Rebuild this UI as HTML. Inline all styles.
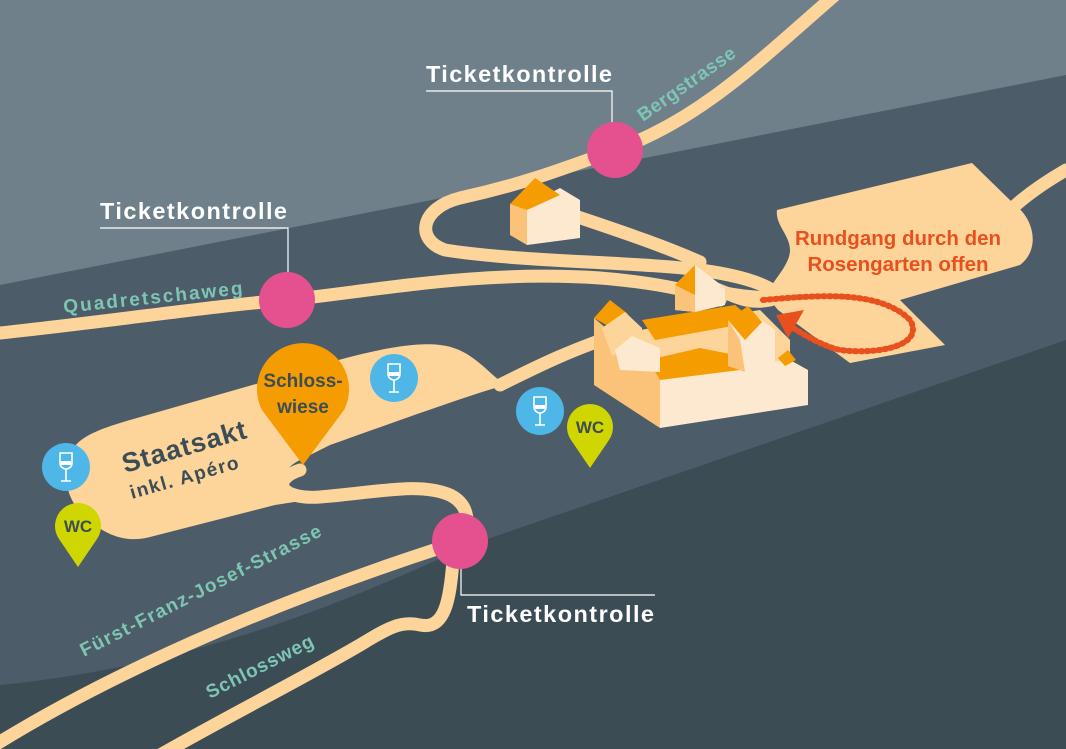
<!DOCTYPE html>
<html><head><meta charset="utf-8"><style>
html,body{margin:0;padding:0;background:#4c5d69}
svg{display:block}
text{font-family:"Liberation Sans",sans-serif;font-weight:bold}
</style></head><body>
<svg width="1066" height="749" viewBox="0 0 1066 749" xmlns="http://www.w3.org/2000/svg">
<rect width="1066" height="749" fill="#4c5d69"/>
<polygon points="0,0 1066,0 1066,75 0,285" fill="#6f808b"/>
<path d="M0,685 C200,665 350,600 470,545 L1066,340 L1066,749 L0,749 Z" fill="#3c4c55"/>

<g fill="none" stroke="#fdd59b" stroke-width="13" stroke-linecap="round" stroke-linejoin="round">
<path d="M835,-5 C760,60 700,120 615,150 C560,170 520,185 460,198 C420,208 415,240 445,250 C520,262 640,262 700,270 C760,278 790,295 770,300 C740,306 730,290 700,285"/>
<path d="M0,333 C120,320 220,305 287,300 C380,290 480,270 600,278 C650,282 690,290 720,300"/>
<path d="M540,204 C600,225 650,240 700,262"/>
<path d="M725,293 C760,300 790,298 820,294"/>
<path d="M1066,170 C1040,185 1020,200 1005,215"/>
<path d="M500,385 C540,365 570,350 630,330"/>
<path d="M-5,745 C100,680 250,610 440,548 L460,541"/>
<path d="M453,560 C450,600 445,630 420,625 C400,620 385,630 360,645 C300,680 230,715 160,755"/>
<path d="M300,470 C270,480 280,500 320,497 C380,492 420,482 450,495 C470,505 470,525 462,540"/>
</g>

<path d="M70,460 C70,440 95,430 130,420 L270,380 C330,362 400,340 440,345 C470,348 485,370 505,385 C470,395 400,420 330,445 L300,460 C270,475 285,500 320,498 L275,505 L150,537 C120,545 95,530 75,505 C65,490 65,475 70,460 Z" fill="#fdd59b"/>

<path d="M777,210 L972,163 L1015,205 C1035,220 1040,250 1020,265 L900,300 L945,345 L850,363 L778,310 L770,300 C760,290 790,270 790,250 C790,235 775,225 777,210 Z" fill="#fdd59b"/>

<!-- small house -->
<polygon points="510,204 510,235 527,245 527,205" fill="#fbc37a"/>
<polygon points="527,205 527,245 580,238 580,200 560,188" fill="#fde9d0"/>
<polygon points="510,204 535,178 560,195 527,210" fill="#f59c00"/>

<!-- castle -->
<g>
<polygon points="640,330 760,310 790,340 790,375 660,385 640,370" fill="#fdd59b"/>
<polygon points="594,318 594,385 660,428 660,372 620,340" fill="#fbc37a"/>
<polygon points="660,372 660,428 808,405 808,370 790,360 770,362 720,368" fill="#fde9d0"/>
<polygon points="648,360 700,348 740,356 740,370 660,380" fill="#f59c00"/>
<polygon points="642,320 735,305 755,322 655,340" fill="#f59c00"/>
<polygon points="594,318 610,300 628,314 615,330" fill="#f59c00"/>
<polygon points="602,328 625,312 642,328 642,342 612,356" fill="#fdd59b"/>
<polygon points="615,350 632,336 660,348 660,372 620,370" fill="#fde9d0"/>
<polygon points="728,320 748,310 775,330 775,368 745,372" fill="#fde9d0"/>
<polygon points="728,320 740,340 745,372 728,366" fill="#fbc37a"/>
<polygon points="728,320 748,306 762,322 745,340" fill="#f59c00"/>
<polygon points="778,358 788,350 796,360 785,366" fill="#f59c00"/>
<polygon points="675,285 675,310 695,312 725,305 725,288 695,265" fill="#fde9d0"/>
<polygon points="675,285 695,265 695,312 675,310" fill="#fbc37a"/>
<polygon points="675,285 695,265 695,295" fill="#f59c00"/>
</g>

<!-- dotted arrow -->
<path d="M763,300 C820,295 880,290 910,320 C925,345 880,355 840,350 C820,345 805,335 793,328" fill="none" stroke="#e8501e" stroke-width="6" stroke-dasharray="2 4" stroke-linecap="round"/>
<polygon points="776,315 804,310 788,338" fill="#e8501e"/>
<text x="898" y="245" font-size="20.5" fill="#e8501e" text-anchor="middle">Rundgang durch den</text>
<text x="898" y="271" font-size="20.5" fill="#e8501e" text-anchor="middle">Rosengarten offen</text>

<g stroke="#ffffff" stroke-width="1.2" fill="none">
<polyline points="426,91 612,91 612,125"/>
<polyline points="100,228 288,228 288,275"/>
<polyline points="461,565 461,595 655,595"/>
</g>
<g fill="#ffffff" font-size="23.5">
<text x="426" y="82" textLength="186">Ticketkontrolle</text>
<text x="100" y="219" textLength="187">Ticketkontrolle</text>
<text x="467" y="622" textLength="187">Ticketkontrolle</text>
</g>

<g fill="#e5508f">
<circle cx="615" cy="150" r="28"/>
<circle cx="287" cy="300" r="28"/>
<circle cx="460" cy="541" r="28"/>
</g>

<g fill="#7ec5b4" font-size="19">
<text transform="translate(643,122) rotate(-35)" textLength="115">Bergstrasse</text>
<text transform="translate(64,313) rotate(-6)" textLength="180">Quadretschaweg</text>
<text transform="translate(84,657) rotate(-27)" textLength="268">Fürst-Franz-Josef-Strasse</text>
<text transform="translate(210,699) rotate(-27)" textLength="118">Schlossweg</text>
</g>

<g fill="#3d4d56">
<text transform="translate(125,473) rotate(-16)" font-size="27" textLength="128">Staatsakt</text>
<text transform="translate(132,499) rotate(-16)" font-size="19" textLength="112">inkl. Apéro</text>
</g>

<path d="M303,465 L262,410 A46,46 0 1 1 344,410 Z" fill="#f59c00"/>
<text x="303" y="387" font-size="19" fill="#3d4d56" text-anchor="middle">Schloss-</text>
<text x="303" y="413" font-size="19" fill="#3d4d56" text-anchor="middle">wiese</text>

<g>
<circle cx="394" cy="378" r="24" fill="#4fb6e8"/>
<circle cx="540" cy="411" r="24" fill="#4fb6e8"/>
<circle cx="66" cy="467" r="24" fill="#4fb6e8"/>
</g>
<g fill="none" stroke="#fff" stroke-width="1.6">
<path d="M388,364 h12 v10 a6,6 0 0 1 -12,0 z M394,380 v12 M389,392 h10"/>
<path d="M534,397 h12 v10 a6,6 0 0 1 -12,0 z M540,413 v12 M535,425 h10"/>
<path d="M60,453 h12 v10 a6,6 0 0 1 -12,0 z M66,469 v12 M61,481 h10"/>
</g>
<g fill="#fff"><rect x="389" y="372" width="10" height="4"/><rect x="535" y="405" width="10" height="4"/><rect x="61" y="461" width="10" height="4"/></g>

<path d="M590,468 L571,440 A23,23 0 1 1 609,440 Z" fill="#d0d600"/>
<path d="M78,567 L59,539 A23,23 0 1 1 97,539 Z" fill="#d0d600"/>
<text x="590" y="433" font-size="17" fill="#3d4d56" text-anchor="middle">WC</text>
<text x="78" y="532" font-size="17" fill="#3d4d56" text-anchor="middle">WC</text>
</svg>
</body></html>
